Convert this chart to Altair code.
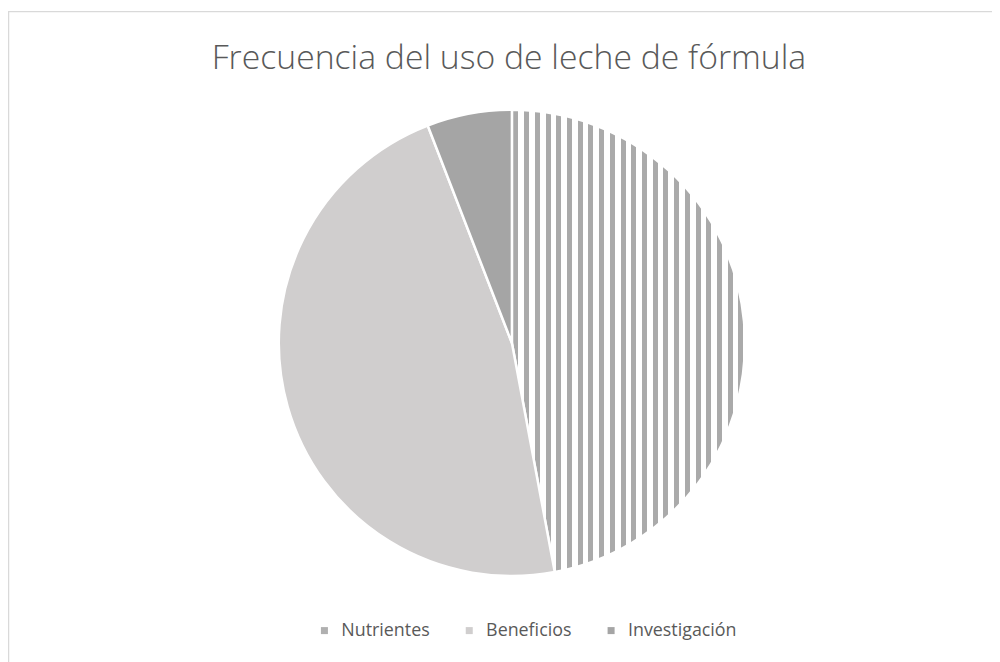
import altair as alt
import pandas as pd

title_text = ["Frecuencia del uso de leche de fórmula"]
categories = ["Nutrientes", "Beneficios", "Investigación"]
values = [8, 8, 1]
colors = ["#b0b0b0", "#d0cece", "#a5a5a5"]

W, H = 992, 654
CX, CY, R = 508, 335, 235

df = pd.DataFrame({"cat": categories, "val": values, "ord": [0, 1, 2]})

# vertical stripe pattern as a hard-stop linear gradient (relative to slice bbox)
period, gray_w, phase = 10.8, 5.0, 1.6
stripe = "#aaaaaa"
stops = [{"offset": 0, "color": "white"}]
k = 0
while True:
    a = (phase + k * period) / R
    b = (phase + k * period + gray_w) / R
    if a >= 1:
        break
    b = min(b, 1)
    stops += [{"offset": a, "color": "white"}, {"offset": a, "color": stripe},
              {"offset": b, "color": stripe}, {"offset": b, "color": "white"}]
    k += 1
stops.append({"offset": 1, "color": "white"})
gradient = {"gradient": "linear", "x1": 0, "x2": 1, "y1": 0, "y2": 0, "stops": stops}

pie = alt.Chart(df).mark_arc(radius=R, stroke="white", strokeWidth=2.5).encode(
    theta=alt.Theta("val:Q", stack=True),
    order=alt.Order("ord:Q"),
    x=alt.value(CX),
    y=alt.value(CY),
    fill=alt.condition(
        alt.datum.cat == "Nutrientes",
        alt.value(gradient),
        alt.Fill("cat:N",
                 scale=alt.Scale(domain=categories, range=colors),
                 sort=categories,
                 legend=alt.Legend(title=None, orient="none", direction="horizontal",
                                   legendX=310, legendY=616, symbolType="square",
                                   symbolSize=50, symbolStrokeWidth=0,
                                   labelFont="Open Sans", labelFontSize=18,
                                   labelColor="#595959", columnPadding=30,
                                   symbolOffset=0, labelOffset=8)),
    ),
)

border = alt.Chart(pd.DataFrame({"a": [0]})).mark_rect(
    fill="white", stroke="#d9d9d9", strokeWidth=1.5
).encode(x=alt.value(0.5), x2=alt.value(W + 20), y=alt.value(1), y2=alt.value(H + 20))

title = alt.Chart(pd.DataFrame({"t": title_text})).mark_text(
    font="Open Sans", fontSize=34, fontWeight=300, color="#595959", baseline="middle", align="center"
).encode(text="t:N", x=alt.value(505), y=alt.value(49))

chart = alt.layer(border, pie, title).properties(
    width=W, height=H, autosize="none", padding=0
).configure_view(stroke=None)

chart.save("out.html", embed_options={"renderer": "svg", "actions": False})
